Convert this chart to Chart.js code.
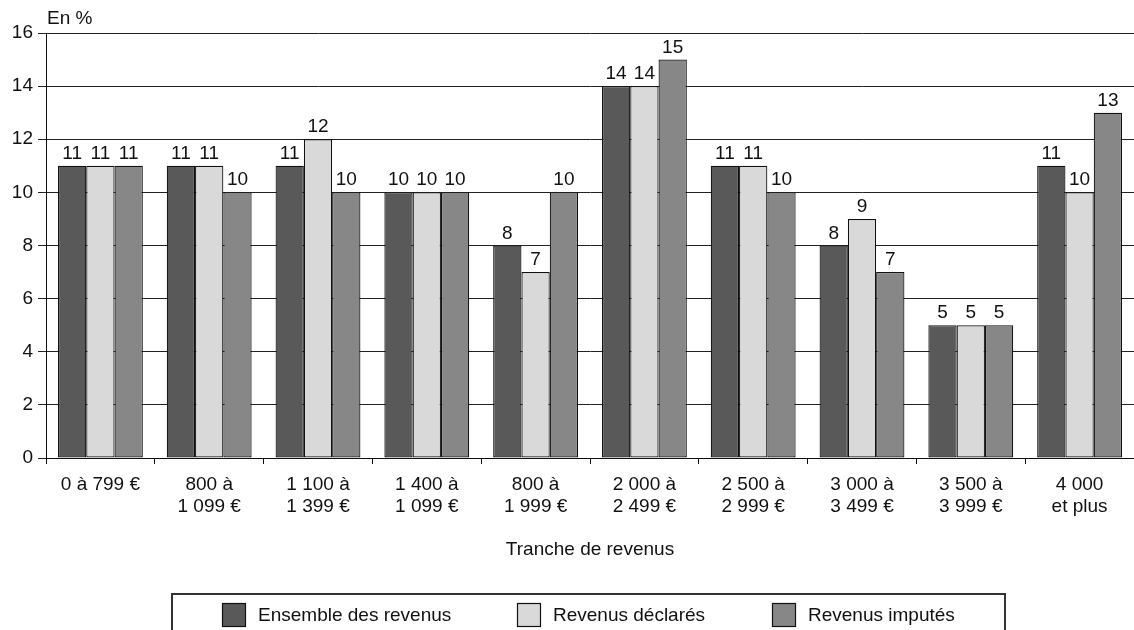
<!DOCTYPE html>
<html>
<head>
<meta charset="utf-8">
<script src="https://cdn.jsdelivr.net/npm/chart.js@4"></script>
<style>
  html, body { margin: 0; padding: 0; background: #fff; }
  #wrap { width: 1134px; height: 630px; position: relative; }
</style>
</head>
<body>
<div id="wrap"><canvas id="c" width="1134" height="630"></canvas></div>
<script>
// Income brackets (multi-line labels)
const categories = [
  "0 à 799 €",
  ["800 à", "1 099 €"],
  ["1 100 à", "1 399 €"],
  ["1 400 à", "1 099 €"],
  ["800 à", "1 999 €"],
  ["2 000 à", "2 499 €"],
  ["2 500 à", "2 999 €"],
  ["3 000 à", "3 499 €"],
  ["3 500 à", "3 999 €"],
  ["4 000", "et plus"]
];

const seriesNames = ["Ensemble des revenus", "Revenus déclarés", "Revenus imputés"];
const ensemble = [11, 11, 11, 10, 8, 14, 11, 8, 5, 11];
const declares = [11, 11, 12, 10, 7, 14, 11, 9, 5, 10];
const imputes  = [11, 10, 10, 10, 10, 15, 10, 7, 5, 13];

const yTicks = [0, 2, 4, 6, 8, 10, 12, 14, 16];
const yUnit = "En %";
const xTitle = "Tranche de revenus";

const colors = ["#595959", "#d9d9d9", "#878787"];
const FONT = "'Liberation Sans', Arial, Helvetica, sans-serif";
const FS = 19;
const INK = "#111";

// Value labels above each bar
const valueLabels = {
  id: "valueLabels",
  afterDatasetsDraw(chart) {
    const ctx = chart.ctx;
    ctx.save();
    ctx.font = FS + "px " + FONT;
    ctx.fillStyle = INK;
    ctx.textAlign = "center";
    ctx.textBaseline = "alphabetic";
    chart.data.datasets.forEach((ds, i) => {
      chart.getDatasetMeta(i).data.forEach((bar, j) => {
        ctx.fillText(String(ds.data[j]), bar.x, bar.y - 7);
      });
    });
    ctx.restore();
  }
};

// Unit caption, axis title and boxed legend
const decorations = {
  id: "decorations",
  afterDraw(chart) {
    const ctx = chart.ctx;
    const area = chart.chartArea;
    ctx.save();
    ctx.font = FS + "px " + FONT;
    ctx.fillStyle = INK;
    ctx.textBaseline = "alphabetic";
    ctx.textAlign = "left";
    ctx.fillText(yUnit, area.left + 1, 24);

    ctx.textAlign = "center";
    ctx.fillText(xTitle, (area.left + area.right) / 2, 555);

    // legend frame
    ctx.strokeStyle = "#333";
    ctx.lineWidth = 2;
    ctx.strokeRect(172, 594, 833, 60);

    const items = [222, 517, 772];
    chart.data.datasets.forEach((ds, i) => {
      const x = items[i];
      ctx.fillStyle = ds.backgroundColor;
      ctx.fillRect(x, 603, 23, 23);
      ctx.strokeStyle = INK;
      ctx.lineWidth = 1.2;
      ctx.strokeRect(x + 0.5, 603.5, 23, 23);
      ctx.fillStyle = INK;
      ctx.textAlign = "left";
      ctx.fillText(ds.label, x + 36, 621);
    });
    ctx.restore();
  }
};

new Chart(document.getElementById("c"), {
  type: "bar",
  data: {
    labels: categories,
    datasets: [
      { label: seriesNames[0], data: ensemble, backgroundColor: colors[0] },
      { label: seriesNames[1], data: declares, backgroundColor: colors[1] },
      { label: seriesNames[2], data: imputes,  backgroundColor: colors[2] }
    ].map(d => Object.assign(d, {
      borderColor: INK,
      borderWidth: 1.2,
      borderSkipped: false,
      categoryPercentage: 0.78,
      barPercentage: 1.0
    }))
  },
  options: {
    responsive: false,
    animation: false,
    devicePixelRatio: 1,
    layout: { padding: { top: 33, right: 0, left: 0, bottom: 0 } },
    plugins: {
      legend: { display: false },
      tooltip: { enabled: false }
    },
    scales: {
      x: {
        grid: {
          display: true,
          offset: true,
          drawOnChartArea: false,
          drawTicks: true,
          tickLength: 6,
          color: INK
        },
        border: { display: true, color: INK, width: 1 },
        ticks: {
          color: INK,
          font: { family: FONT, size: FS, lineHeight: 1.2 },
          padding: 9,
          maxRotation: 0,
          autoSkip: false
        },
        afterFit(scale) { scale.height = 172; }
      },
      y: {
        min: 0,
        max: 16,
        afterBuildTicks(scale) { scale.ticks = yTicks.map(v => ({ value: v })); },
        grid: {
          color: "#222",
          lineWidth: 1,
          drawTicks: true,
          tickLength: 8
        },
        border: { display: true, color: INK, width: 1 },
        ticks: {
          color: INK,
          font: { family: FONT, size: FS },
          padding: 5
        },
        afterFit(scale) { scale.width = 46; }
      }
    }
  },
  plugins: [valueLabels, decorations]
});
</script>
</body>
</html>
